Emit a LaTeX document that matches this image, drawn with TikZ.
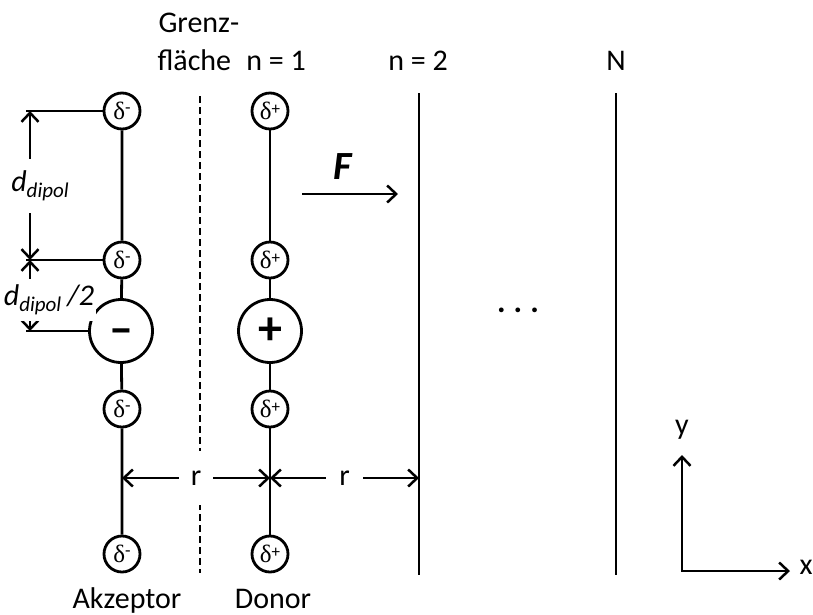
\documentclass[tikz,border=0pt]{standalone}
\usepackage{fontspec}
\setmainfont{Carlito}
\newfontfamily\greekfont{Liberation Serif}
\usepackage{tikz}
\usetikzlibrary{positioning, arrows.meta}
\newcommand{\dneg}{{\greekfont δ}\raisebox{0.5ex}{\fontsize{18}{18}\selectfont -}}
\newcommand{\dpos}{{\greekfont δ}\raisebox{0.45ex}{\fontsize{17}{17}\selectfont +}}
\newcommand{\ddip}{\textit{d}\raisebox{-6pt}{\fontsize{21}{21}\selectfont\itshape dipol}}

\begin{document}
\begin{tikzpicture}[
  x=1pt, y=-1pt,
  every node/.style={font=\fontsize{30}{38}\selectfont},
  pole/.style={draw, circle, line width=2.8pt, minimum size=36pt, inner sep=0pt,
               font=\fontsize{25}{25}\selectfont},
  ion/.style={draw, circle, line width=2.8pt, minimum size=63pt, inner sep=0pt,
              text height=26pt, text depth=0pt,
              font=\fontsize{48}{48}\selectfont\bfseries},
  ln/.style={line width=2.8pt},
  ar/.style={line width=2.5pt, -{Straight Barb[length=9pt,width=17pt]}},
  dim/.style={line width=2.5pt, {Straight Barb[length=9pt,width=17pt]}-{Straight Barb[length=9pt,width=17pt]}},
  lbl/.style={fill=white, inner xsep=2pt, inner ysep=1pt},
]
  \useasboundingbox (0,0) rectangle (813,614);

  % Akzeptor
  \node[pole] (a1) at (122,111) {\dneg};
  \node[pole] (a2) at (122,260) {\dneg};
  \node[ion]  (am) at (121,331) {–};
  \node[pole] (a3) at (122,409) {\dneg};
  \node[pole] (a4) at (122,554) {\dneg};
  \draw[ln] (a1) -- (a2) -- (am) -- (a3) -- (a4);

  % Donor
  \node[pole] (d1) at (270,111) {\dpos};
  \node[pole] (d2) at (270,260) {\dpos};
  \node[ion]  (dp) at (270,331) {+};
  \node[pole] (d3) at (270,409) {\dpos};
  \node[pole] (d4) at (270,554) {\dpos};
  \draw[ln] (d1) -- (d2) -- (dp) -- (d3) -- (d4);

  % Grenzflaeche und Schichten
  \coordinate (gtop) at (200,96);
  \coordinate (gbot) at (200,573);
  \draw[ln, dash pattern=on 7pt off 4pt] (gtop) -- (gbot);
  \coordinate (n2top) at (419,93);
  \coordinate (n2bot) at (419,575);
  \draw[ln] (n2top) -- (n2bot);
  \coordinate (nNtop) at (616,93);
  \coordinate (nNbot) at (616,575);
  \draw[ln] (nNtop) -- (nNbot);

  \node[anchor=base west] (grenz) at (155,32) {Grenz-};
  \node[anchor=base west] (flaeche) at (154,70) {fläche};
  \node[anchor=base] (n1) at (276,70) {n = 1};
  \node[anchor=base] (n2) at (418,70) {n = 2};
  \node[anchor=base] (nN) at (616,70) {N};
  \node[anchor=base] (akz) at (127,608) {Akzeptor};
  \node[anchor=base] (don) at (273,608) {Donor};

  % Dipolabstand
  \coordinate (t1) at (26,111);
  \coordinate (t2) at (26,260);
  \coordinate (t3) at (26,331);
  \draw[ln] (t1) -- (a1);
  \draw[ln] (t2) -- (a2);
  \draw[ln] (t3) -- (am);
  \coordinate (v1) at (30,111);
  \coordinate (v2) at (30,260);
  \coordinate (v3) at (30,331);
  \draw[dim] (v1) -- (v2);
  \draw[dim] (v2) -- (v3);
  \node[lbl, inner ysep=12pt] (ldip) at (40,186) {\ddip};
  \node[lbl, inner ysep=6pt] (ldip2) at (49,300) {\ddip\hspace{6pt}\textit{/2}};

  % Feld
  \coordinate (f0) at (302,194);
  \coordinate (f1) at (398,194);
  \draw[ar] (f0) -- node[above=10pt, xshift=-7pt, font=\fontsize{40}{40}\selectfont\bfseries\itshape] (F) {F} (f1);

  % Abstaende r
  \coordinate (ra) at (122,478);
  \coordinate (rd) at (270,478);
  \coordinate (rn) at (419,478);
  \draw[dim] (ra) -- node[lbl, inner xsep=12pt, inner ysep=20pt] (r1) {r} (rd);
  \draw[dim] (rd) -- node[lbl, inner xsep=13pt] (r2) {r} (rn);

  \node[anchor=base, font=\fontsize{32}{32}\selectfont\bfseries] (dots) at (518,312) {.\hspace{8pt}.\hspace{8pt}.};

  % Achsen
  \coordinate (o) at (682,571);
  \coordinate (ytip) at (682,455);
  \coordinate (xtip) at (790,571);
  \draw[dim] (ytip) -- (o) -- (xtip);
  \node (ylab) at (682,430) {y};
  \node (xlab) at (806,567) {x};
\end{tikzpicture}
\end{document}
